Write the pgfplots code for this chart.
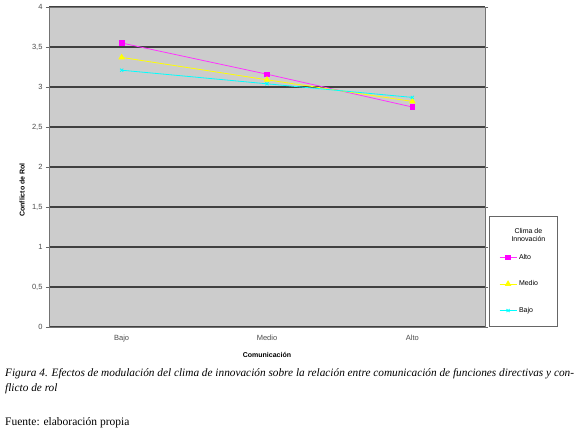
\documentclass[border=0pt]{standalone}
\usepackage{fontspec}
\setmainfont{Liberation Sans}
\newfontfamily\serif{Liberation Serif}
\usepackage{pgfplots}
\pgfplotsset{compat=1.18}
\definecolor{bggray}{RGB}{204,204,204}
\definecolor{rosa}{RGB}{255,0,255}
\definecolor{amarillo}{RGB}{255,255,0}
\definecolor{celeste}{RGB}{0,255,255}
\begin{document}
\begin{tikzpicture}
\path[use as bounding box, fill=white] (0pt,0pt) rectangle (580pt,-440pt);

\begin{axis}[
    at={(49pt,-327pt)}, anchor=south west,
    scale only axis,
    width=436pt, height=320pt,
    xmin=-0.5, xmax=2.5,
    ymin=0, ymax=4,
    xtick={0,1,2},
    xticklabels={Bajo,Medio,Alto},
    ytick={0,0.5,...,4},
    x tick style={draw=none},
    y tick style={draw=black!60},
    tick align=outside,
    major tick length=3pt,
    ymajorgrids,
    grid style={black!75, line width=1.2pt},
    axis background/.style={fill=bggray},
    axis line style={black!55, line width=0.8pt},
    tick label style={font=\fontsize{7.5}{8.5}\selectfont, text=black!70},
    /pgf/number format/.cd, use comma, assume math mode=true,
    /pgfplots/.cd,
    xticklabel style={yshift=-2pt},
    legend style={at={(1.009,0.003)}, anchor=south west,
        draw=black!60, fill=white, font=\fontsize{7}{8}\selectfont,
        row sep=16pt, inner xsep=10pt, inner ysep=10pt},
    legend cell align=left,
]
\addlegendimage{empty legend}
\addlegendentry{\hspace{-7.5pt}\raisebox{-9pt}[\dimexpr\height-9pt\relax][0pt]{\shortstack{Clima de\\Innovación}}}

% Clima de innovación alto
\addplot[color=rosa!80!white, line width=0.8pt, mark=square*,
    mark size=2.3pt, mark options={fill=rosa, draw=rosa}]
    coordinates {(0,3.55) (1,3.16) (2,2.75)};
\addlegendentry{Alto}

% Clima de innovación medio
\addplot[color=amarillo, line width=0.8pt, mark=triangle*,
    mark size=3pt, mark options={fill=amarillo, draw=amarillo}]
    coordinates {(0,3.37) (1,3.09) (2,2.82)};
\addlegendentry{Medio\hspace{23pt}}

% Clima de innovación bajo
\addplot[color=celeste, line width=0.8pt, mark=x,
    mark size=2.2pt, mark options={draw=celeste}]
    coordinates {(0,3.21) (1,3.04) (2,2.87)};
\addlegendentry{Bajo}
\end{axis}

\node[rotate=90, font=\bfseries\fontsize{7}{8}\selectfont] at (22pt,-190pt) {Conflicto de Rol};
\node[font=\bfseries\fontsize{7}{8}\selectfont] at (267pt,-355pt) {Comunicación};

\node[anchor=west, font=\serif\itshape\fontsize{11.3}{13}\selectfont, inner sep=0pt] at (5pt,-374pt)
    {Figura 4. Efectos de modulación del clima de innovación sobre la relación entre comunicación de funciones directivas y con-};
\node[anchor=west, font=\serif\itshape\fontsize{11.3}{13}\selectfont, inner sep=0pt] at (5pt,-389pt)
    {flicto de rol};
\node[anchor=west, font=\serif\fontsize{11.5}{13}\selectfont, inner sep=0pt] at (5pt,-423pt)
    {Fuente: elaboración propia};
\end{tikzpicture}
\end{document}
